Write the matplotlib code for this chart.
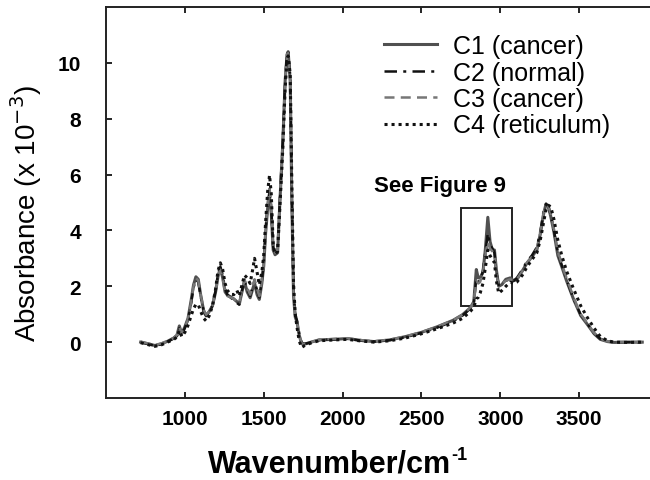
import matplotlib
matplotlib.use('Agg')
import matplotlib.pyplot as plt
from matplotlib.patches import Rectangle

plt.rcParams['font.family'] = ['Liberation Sans', 'DejaVu Sans']

# wavenumber grid (cm-1) and absorbance (x 10^-3)
wavenumber = [720, 760, 810, 850, 890, 930, 950, 965, 980, 1000,
              1020, 1040, 1055, 1070, 1085, 1100, 1120, 1135, 1155, 1175,
              1195, 1210, 1225, 1240, 1255, 1270, 1290, 1310, 1330, 1345,
              1360, 1378, 1395, 1414, 1430, 1442, 1458, 1472, 1488, 1500,
              1512, 1525, 1537, 1548, 1560, 1572, 1588, 1604, 1620, 1636,
              1648, 1655, 1668, 1678, 1689, 1700, 1712, 1725, 1740, 1760,
              1800, 1850, 1950, 2030, 2120, 2200, 2300, 2400, 2500, 2600,
              2700, 2760, 2810, 2832, 2848, 2860, 2872, 2890, 2905, 2921,
              2935, 2950, 2963, 2975, 2990, 3010, 3035, 3063, 3085, 3105,
              3140, 3170, 3200, 3232, 3255, 3275, 3290, 3305, 3320, 3340,
              3365, 3390, 3420, 3465, 3510, 3550, 3595, 3634, 3680, 3720,
              3800, 3900]

c1 = [0.00, -0.05, -0.12, -0.06, 0.03, 0.15, 0.25, 0.58, 0.30, 0.55,
      0.85, 1.50, 2.05, 2.34, 2.25, 1.70, 1.10, 0.94, 1.10, 1.30,
      1.80, 2.35, 2.66, 2.30, 1.80, 1.68, 1.62, 1.55, 1.45, 1.35,
      1.75, 2.18, 1.80, 1.59, 1.90, 2.12, 1.70, 1.53, 2.10, 2.72,
      3.90, 4.80, 5.20, 4.60, 3.30, 3.13, 3.20, 5.20, 7.00, 9.36,
      10.30, 10.40, 9.36, 5.20, 1.65, 0.90, 0.70, 0.25, -0.05, -0.07,
      0.00, 0.08, 0.10, 0.13, 0.06, 0.02, 0.08, 0.20, 0.35, 0.55,
      0.78, 0.98, 1.23, 1.45, 2.60, 2.30, 2.30, 2.50, 3.30, 4.47,
      3.60, 3.30, 3.30, 2.60, 2.00, 2.06, 2.25, 2.30, 2.20, 2.24,
      2.55, 2.84, 3.05, 3.31, 3.90, 4.60, 4.95, 4.85, 4.50, 3.95,
      3.10, 2.70, 2.20, 1.53, 0.95, 0.65, 0.30, 0.10, 0.02, -0.01,
      0.00, 0.00]

c2 = [0.00, -0.06, -0.13, -0.08, 0.02, 0.13, 0.22, 0.50, 0.28, 0.50,
      0.80, 1.40, 1.95, 2.25, 2.15, 1.65, 1.10, 0.95, 1.10, 1.30,
      1.85, 2.45, 2.70, 2.40, 1.90, 1.70, 1.60, 1.50, 1.40, 1.35,
      1.80, 2.20, 1.90, 1.65, 2.00, 2.20, 1.85, 1.60, 2.20, 2.80,
      4.00, 4.95, 5.40, 4.80, 3.40, 3.20, 3.30, 5.30, 7.10, 9.40,
      10.35, 10.40, 9.50, 5.40, 1.80, 1.00, 0.75, 0.30, -0.02, -0.06,
      -0.01, 0.07, 0.10, 0.12, 0.05, 0.02, 0.07, 0.18, 0.33, 0.52,
      0.75, 0.95, 1.20, 1.40, 2.30, 2.15, 2.20, 2.55, 3.20, 3.90,
      3.50, 3.35, 3.20, 2.50, 2.05, 2.10, 2.20, 2.25, 2.20, 2.30,
      2.60, 2.90, 3.10, 3.40, 4.00, 4.70, 4.95, 4.85, 4.55, 4.00,
      3.20, 2.75, 2.25, 1.55, 0.98, 0.68, 0.32, 0.12, 0.02, 0.00,
      0.00, 0.00]

c3 = [0.02, -0.04, -0.10, -0.05, 0.04, 0.15, 0.25, 0.55, 0.30, 0.52,
      0.82, 1.45, 2.00, 2.30, 2.20, 1.70, 1.15, 0.98, 1.10, 1.30,
      1.80, 2.35, 2.60, 2.30, 1.80, 1.65, 1.60, 1.55, 1.45, 1.40,
      1.80, 2.25, 1.95, 1.70, 2.00, 2.25, 1.90, 1.65, 2.20, 2.80,
      4.00, 5.00, 5.50, 4.90, 3.45, 3.20, 3.30, 5.30, 7.10, 9.40,
      10.30, 10.35, 9.40, 5.30, 1.70, 0.95, 0.70, 0.25, -0.05, -0.06,
      0.00, 0.08, 0.12, 0.14, 0.07, 0.03, 0.09, 0.20, 0.36, 0.55,
      0.78, 0.98, 1.22, 1.42, 2.20, 2.10, 2.15, 2.50, 3.10, 3.60,
      3.35, 3.25, 3.10, 2.45, 2.05, 2.10, 2.20, 2.25, 2.20, 2.25,
      2.55, 2.85, 3.05, 3.35, 3.95, 4.65, 4.90, 4.85, 4.60, 4.05,
      3.25, 2.80, 2.30, 1.60, 1.00, 0.70, 0.33, 0.12, 0.03, 0.00,
      0.00, 0.00]

c4 = [-0.02, -0.08, -0.15, -0.10, 0.00, 0.10, 0.18, 0.42, 0.20, 0.35,
      0.60, 0.95, 1.20, 1.35, 1.35, 1.10, 0.85, 0.76, 0.95, 1.30,
      1.90, 2.55, 2.84, 2.60, 2.10, 1.85, 1.72, 1.70, 1.85, 1.65,
      2.00, 2.40, 2.30, 2.10, 2.60, 3.00, 2.50, 2.05, 2.50, 3.10,
      4.30, 5.40, 5.98, 5.30, 3.50, 3.15, 3.25, 5.00, 6.80, 9.10,
      10.10, 10.25, 9.60, 5.80, 2.10, 1.00, 0.50, 0.05, -0.19, -0.12,
      -0.03, 0.05, 0.08, 0.10, 0.04, 0.00, 0.05, 0.15, 0.30, 0.48,
      0.68, 0.85, 1.10, 1.25, 1.55, 1.60, 1.75, 2.10, 2.65, 3.30,
      3.10, 2.95, 2.85, 2.20, 1.75, 1.85, 2.00, 2.15, 2.10, 2.15,
      2.40, 2.70, 2.95, 3.20, 3.70, 4.30, 4.75, 4.90, 4.85, 4.40,
      3.65, 3.10, 2.55, 1.90, 1.30, 0.90, 0.50, 0.20, 0.05, 0.00,
      -0.01, 0.00]

labels = ['C1 (cancer)', 'C2 (normal)', 'C3 (cancer)', 'C4 (reticulum)']

fig = plt.figure(figsize=(6.5, 4.81), dpi=100)
ax = fig.add_axes([106 / 650, 1 - 399 / 481, 552 / 650, 391 / 481])

ax.plot(wavenumber, c1, '-', color='#505050', lw=2.2, label=labels[0])
ax.plot(wavenumber, c2, linestyle=(0, (5, 2.5, 1.2, 2.5)), color='#111111', lw=1.8, label=labels[1])
ax.plot(wavenumber, c3, linestyle=(0, (4, 2.5)), color='#777777', lw=1.8, label=labels[2])
ax.plot(wavenumber, c4, linestyle=(0, (1, 1.3)), color='#111111', lw=2.2, label=labels[3])

# box marking the CH stretch region
ax.add_patch(Rectangle((2750, 1.3), 325, 3.5, fill=False, edgecolor='#222222', lw=1.4))
ax.text(2615, 5.6, 'See Figure 9', fontsize=16, fontweight='bold', ha='center', va='center')

ax.set_xlim(500, 4000)
ax.set_ylim(-2, 12)
ax.set_xticks([1000, 1500, 2000, 2500, 3000, 3500])
ax.set_yticks([0, 2, 4, 6, 8, 10])
ax.tick_params(direction='in', length=4, width=1.2, top=True, right=True,
               labelsize=15)
ax.tick_params(axis='x', pad=8)
ax.tick_params(axis='y', pad=18)
for lab in ax.get_xticklabels() + ax.get_yticklabels():
    lab.set_fontweight('bold')
for sp in ax.spines.values():
    sp.set_linewidth(1.4)
    sp.set_color('#222222')

xl = ax.set_xlabel('Wavenumber/cm', fontsize=22, fontweight='bold')
ax.xaxis.set_label_coords((330 - 106) / 552, -(465 - 399) / 391)
ax.xaxis.label.set_va('center')
ax.annotate('-1', xy=(1, 1), xycoords=xl, xytext=(0, 2), textcoords='offset points',
            fontsize=13, fontweight='bold', ha='left', va='top')

ax.set_ylabel('Absorbance (x 10$^{-3}$)', fontsize=20)
ax.yaxis.set_label_coords(-(106 - 44) / 552, (399 - 214) / 391)

ax.legend(loc='upper left', bbox_to_anchor=(384 / 650, 1 - 35 / 481),
          bbox_transform=fig.transFigure, frameon=False, fontsize=18,
          handlelength=2.1, handletextpad=0.65, labelspacing=0.1,
          borderpad=0, borderaxespad=0)

fig.savefig('out.png', dpi=100)
